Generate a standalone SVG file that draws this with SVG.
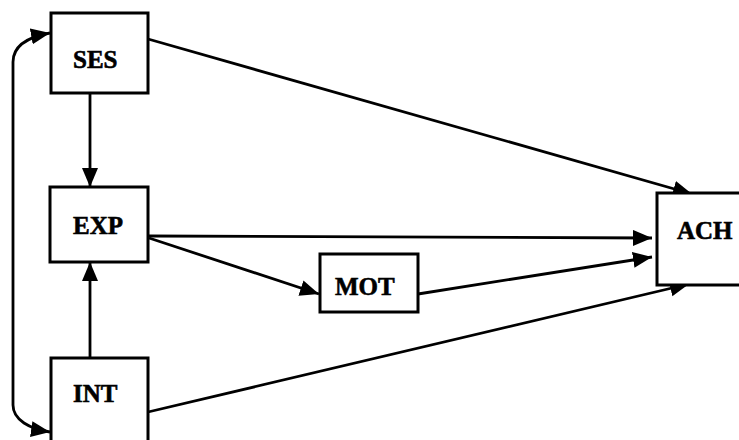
<svg xmlns="http://www.w3.org/2000/svg" width="739" height="440" viewBox="0 0 739 440">
<style>
.box{fill:#fff;stroke:#000;stroke-width:3}
.lbl{font-family:"Liberation Serif","Times New Roman",serif;font-weight:bold;font-size:25px;fill:#000;stroke:#000;stroke-width:0.6}
.con{fill:none;stroke:#000;stroke-width:2.8}
</style>
<defs>
<marker id="ah" markerUnits="userSpaceOnUse" markerWidth="22" markerHeight="18" refX="19" refY="8" orient="auto-start-reverse">
<path d="M0,0 L19,8 L0,16 z" fill="#000"/>
</marker>
</defs>
<rect width="739" height="440" fill="#fff"/>
<g id="connectors">
<line class="con" x1="148" y1="39" x2="692" y2="194" marker-end="url(#ah)"/>
<line class="con" x1="149" y1="236" x2="652" y2="238" marker-end="url(#ah)"/>
<line class="con" x1="149" y1="238" x2="319" y2="294" marker-end="url(#ah)"/>
<line class="con" x1="418" y1="294" x2="652" y2="257" marker-end="url(#ah)"/>
<line class="con" x1="148" y1="412" x2="689" y2="284" marker-end="url(#ah)"/>
<line class="con" x1="90" y1="93" x2="90" y2="187" marker-end="url(#ah)"/>
<line class="con" x1="90" y1="358" x2="90" y2="262" marker-end="url(#ah)"/>
<path class="con" d="M50,33 C28,37 13,46 13,62 L13,405 C13,420 30,429 50,432" marker-start="url(#ah)" marker-end="url(#ah)"/>
</g>
<g id="SES">
<rect class="box" x="51" y="13" width="97" height="80"/>
<text class="lbl" x="73" y="68">SES</text>
</g>
<g id="EXP">
<rect class="box" x="50" y="187" width="98" height="75"/>
<text class="lbl" x="73" y="234">EXP</text>
</g>
<g id="INT">
<rect class="box" x="51" y="358" width="97" height="100"/>
<text class="lbl" x="73" y="402">INT</text>
</g>
<g id="MOT">
<rect class="box" x="320" y="254" width="98" height="58"/>
<text class="lbl" x="335" y="295">MOT</text>
</g>
<g id="ACH">
<rect class="box" x="657" y="193" width="100" height="92"/>
<text class="lbl" x="677" y="239">ACH</text>
</g>
</svg>
